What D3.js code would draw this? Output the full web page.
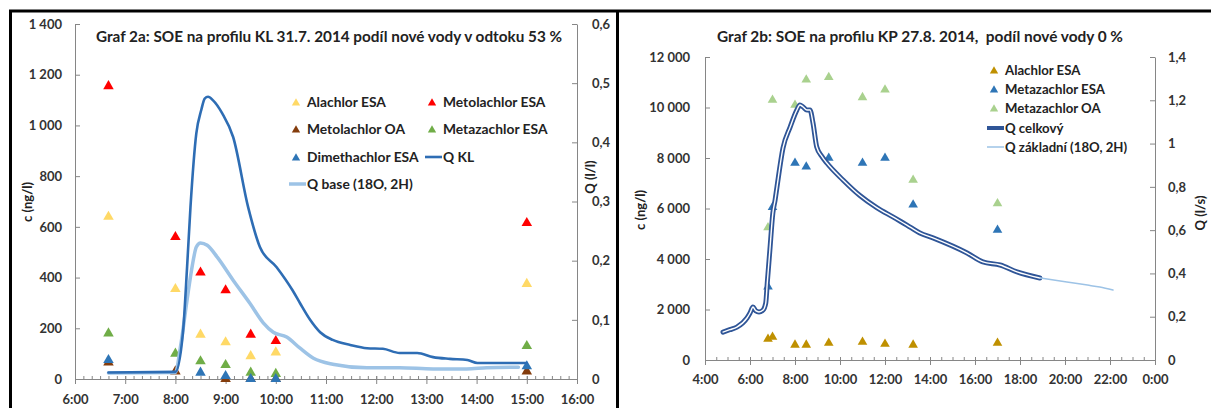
<!DOCTYPE html>
<html>
<head>
<meta charset="utf-8">
<script src="https://cdn.jsdelivr.net/npm/d3@7"></script>
<style>
  body { margin: 0; background: #fff; }
  svg text { font-family: Lato, 'Open Sans', sans-serif; }
</style>
</head>
<body>
<svg id="chart" width="1211" height="408"></svg>
<script>
// ---- Graf 2a (profil KL) ----
let timesKL = ['6:40', '8:00', '8:30', '9:00', '9:30', '10:00', '15:00'];
let alachlorEsaKL = [640, 355, 175, 145, 90, 105, 375];
let metolachlorEsaKL = [1155, 560, 420, 350, 175, 150, 615];
let metolachlorOaKL = [65, 30, null, 0, 0, 0, 30];
let metazachlorEsaKL = [180, 100, 70, 55, 25, 20, 130];
let dimethachlorEsaKL = [75, null, 25, 12, 0, 0, 50];

let qKL = [['6:40', 0.011], ['8:00', 0.012], ['8:09', 0.078], ['8:14', 0.19], ['8:18', 0.29], ['8:25', 0.415],
  ['8:31', 0.455], ['8:35', 0.474], ['8:39', 0.477], ['8:45', 0.471], ['8:56', 0.449], ['9:09', 0.409],
  ['9:27', 0.29], ['9:41', 0.223], ['10:01', 0.189], ['10:20', 0.150], ['10:29', 0.128], ['10:41', 0.10],
  ['10:53', 0.079], ['11:08', 0.066], ['11:29', 0.0575], ['11:49', 0.052], ['12:08', 0.051], ['12:28', 0.044],
  ['12:49', 0.044], ['13:08', 0.037], ['13:28', 0.034], ['13:49', 0.032], ['14:01', 0.027], ['15:00', 0.027]];
let qBaseKL = [['6:40', 0.010], ['8:00', 0.011], ['8:06', 0.054], ['8:14', 0.134], ['8:20', 0.19], ['8:25', 0.223],
  ['8:30', 0.23], ['8:38', 0.226], ['8:50', 0.206], ['9:09', 0.167], ['9:29', 0.128], ['9:45', 0.095],
  ['9:57', 0.079], ['10:13', 0.071], ['10:29', 0.052], ['10:45', 0.035], ['11:08', 0.025], ['11:49', 0.019],
  ['12:28', 0.019], ['13:08', 0.017], ['13:48', 0.017], ['14:12', 0.019], ['14:50', 0.020]];

let xTicksKL = [6, 7, 8, 9, 10, 11, 12, 13, 14, 15, 16];
let cTicksKL = [0, 200, 400, 600, 800, 1000, 1200, 1400];
let qTicksKL = [0, 0.1, 0.2, 0.3, 0.4, 0.5, 0.6];

// ---- Graf 2b (profil KP) ----
let timesKP = ['6:48', '7:00', '8:00', '8:30', '9:30', '11:00', '12:00', '13:15', '17:00'];
let alachlorEsaKP = [830, 910, 600, 600, 670, 710, 630, 600, 670];
let metazachlorEsaKP = [2900, 6050, 7800, 7650, 8000, 7800, 8000, 6150, 5150];
let metazachlorOaKP = [5250, 10300, 10100, 11100, 11200, 10400, 10700, 7130, 6200];

let qTotalKP = [['4:48', 0.129], ['5:06', 0.14], ['5:25', 0.152], ['5:52', 0.194], ['6:00', 0.217], ['6:08', 0.245],
  ['6:15', 0.228], ['6:24', 0.222], ['6:35', 0.231], ['6:42', 0.263], ['6:46', 0.355], ['6:53', 0.508],
  ['7:01', 0.68], ['7:07', 0.74], ['7:12', 0.80], ['7:28', 0.98], ['7:47', 1.076], ['8:05', 1.155],
  ['8:13', 1.178], ['8:21', 1.17], ['8:32', 1.155], ['8:40', 1.155], ['8:48', 1.095], ['8:58', 0.984],
  ['9:12', 0.94], ['9:25', 0.91], ['10:08', 0.832], ['10:53', 0.76], ['11:38', 0.704], ['12:21', 0.661],
  ['12:42', 0.64], ['13:07', 0.614], ['13:33', 0.587], ['14:08', 0.564], ['15:39', 0.494], ['16:21', 0.453],
  ['17:07', 0.439], ['17:52', 0.407], ['18:53', 0.379]];
let qBaseKP = [['18:53', 0.379], ['20:05', 0.36], ['21:00', 0.346], ['21:33', 0.337], ['22:08', 0.323]];

let xTicksKP = [4, 6, 8, 10, 12, 14, 16, 18, 20, 22, 24];
let cTicksKP = [0, 2000, 4000, 6000, 8000, 10000, 12000];
let qTicksKP = [0, 0.2, 0.4, 0.6, 0.8, 1, 1.2, 1.4];

let parseTime = function (s) {
  let parts = s.split(':');
  return +parts[0] + parts[1] / 60;
};

let czLocale = d3.formatLocale({decimal: ',', thousands: '\u00a0', grouping: [3], currency: ['', '']});
let fmtThousands = czLocale.format(',d');
let fmtQ = (d) => String(+d.toFixed(1)).replace('.', ',');
let fmtHour = (h) => (h % 24) + ':00';

let svg = d3.select('#chart');
let axisGray = '#868686';
let labelColor = '#333';

let drawPanel = function (p) {
  let x = d3.scaleLinear().domain(p.xDomain).range([p.left, p.right]);
  let yC = d3.scaleLinear().domain([0, d3.max(p.cTicks)]).range([p.bottom, p.top]);
  let yQ = d3.scaleLinear().domain([0, d3.max(p.qTicks)]).range([p.bottom, p.top]);

  let g = svg.append('g');

  // minor ticks on the time axis (pointing up)
  g.append('g')
    .attr('transform', 'translate(0,' + p.bottom + ')')
    .call(d3.axisBottom(x).tickValues(d3.range(p.xDomain[0], p.xDomain[1] + 1e-9, p.minorStep))
      .tickSizeInner(-3).tickSizeOuter(0).tickFormat(''))
    .call((a) => a.select('.domain').remove())
    .selectAll('line').attr('stroke', axisGray);

  // major time axis
  g.append('g')
    .attr('transform', 'translate(0,' + p.bottom + ')')
    .call(d3.axisBottom(x).tickValues(p.xTicks).tickSizeInner(5).tickSizeOuter(0)
      .tickPadding(p.xPad).tickFormat(fmtHour))
    .call((a) => {
      a.select('.domain').attr('stroke', axisGray);
      a.selectAll('line').attr('stroke', axisGray).attr('y1', -3);
      a.selectAll('text').attr('font-size', 13).attr('font-weight', 'bold').attr('fill', labelColor);
    });

  // concentration axis
  g.append('g')
    .attr('transform', 'translate(' + p.left + ',0)')
    .call(d3.axisLeft(yC).tickValues(p.cTicks).tickSizeInner(-5).tickSizeOuter(0)
      .tickPadding(p.cPad).tickFormat(fmtThousands))
    .call((a) => {
      a.select('.domain').attr('stroke', axisGray);
      a.selectAll('line').attr('stroke', axisGray);
      a.selectAll('text').attr('font-size', 13).attr('font-weight', 'bold').attr('fill', labelColor);
    });

  // discharge axis
  g.append('g')
    .attr('transform', 'translate(' + p.right + ',0)')
    .call(d3.axisRight(yQ).tickValues(p.qTicks).tickSizeInner(-5).tickSizeOuter(0)
      .tickPadding(p.qPad).tickFormat(fmtQ))
    .call((a) => {
      a.select('.domain').attr('stroke', axisGray);
      a.selectAll('line').attr('stroke', axisGray);
      a.selectAll('text').attr('font-size', 13).attr('font-weight', 'bold').attr('fill', labelColor);
    });

  // axis titles
  g.append('text')
    .attr('transform', 'translate(' + p.cTitleX + ',' + p.titleY + ') rotate(-90)')
    .attr('text-anchor', 'middle').attr('dy', '0.35em')
    .attr('font-size', 13).attr('font-weight', 'bold').attr('fill', '#222')
    .text('c (ng/l)');
  g.append('text')
    .attr('transform', 'translate(' + p.qTitleX + ',' + p.qTitleY + ') rotate(-90)')
    .attr('text-anchor', 'middle').attr('dy', '0.35em')
    .attr('font-size', 13).attr('font-weight', 'bold').attr('fill', '#222')
    .text(p.qTitle);

  // chart title
  g.append('text')
    .attr('x', p.titleX).attr('y', 37).attr('dy', '0.35em')
    .attr('text-anchor', 'middle')
    .attr('font-size', p.titleSize).attr('font-weight', 'bold').attr('fill', '#222')
    .attr('xml:space', 'preserve')
    .text(p.title);

  let tri = d3.symbol().type(d3.symbolTriangle).size(p.markerSize);

  // scatter series (drawn under the lines)
  p.series.forEach((s) => {
    let pts = p.times.map((t, i) => ({t: parseTime(t), v: s.values[i]})).filter((d) => d.v !== null);
    g.append('g').selectAll('path')
      .data(pts)
      .enter().append('path')
      .attr('d', tri)
      .attr('transform', (d) => 'translate(' + x(d.t) + ',' + yC(d.v) + ')')
      .attr('fill', s.color);
  });

  // discharge lines
  p.lines.forEach((l) => {
    let line = d3.line()
      .x((d) => x(parseTime(d[0])))
      .y((d) => yQ(d[1]))
      .curve(d3.curveMonotoneX);
    l.strokes.forEach((st) => {
      g.append('path')
        .datum(l.values)
        .attr('d', line)
        .attr('fill', 'none')
        .attr('stroke', st.color)
        .attr('stroke-width', st.width)
        .attr('stroke-linejoin', 'round')
        .attr('stroke-linecap', 'round');
    });
  });

  // legend
  let legend = g.append('g').selectAll('.legend')
    .data(p.legend)
    .enter().append('g')
    .attr('class', 'legend')
    .attr('transform', (d) => 'translate(' + d.x + ',' + d.y + ')');

  legend.filter((d) => d.type === 'marker')
    .append('path')
    .attr('d', d3.symbol().type(d3.symbolTriangle).size(p.legendMarkerSize))
    .attr('transform', 'translate(-11,1)')
    .attr('fill', (d) => d.color);

  legend.filter((d) => d.type === 'line')
    .each(function (d) {
      d.strokes.forEach((st) => {
        d3.select(this).append('line')
          .attr('x1', -18).attr('x2', -1).attr('y1', 0).attr('y2', 0)
          .attr('stroke', st.color).attr('stroke-width', st.width);
      });
    });

  legend.append('text')
    .attr('x', 0).attr('dy', '0.35em')
    .attr('font-size', p.legendSize).attr('font-weight', 'bold').attr('fill', '#222')
    .text((d) => d.label);
};

// ---- panel 2a ----
let colKL = {alaEsa: '#ffd966', metoEsa: '#ff0000', metoOa: '#843c0c', metaEsa: '#70ad47', dimeEsa: '#2e75b6'};
let qKLStrokes = [{color: '#2e6db4', width: 2.6}];
let qBaseKLStrokes = [{color: '#9dc3e6', width: 3.5}];

drawPanel({
  xDomain: [6, 16], left: 75, right: 577, top: 24, bottom: 379,
  xTicks: xTicksKL, minorStep: 1 / 6, xPad: 11,
  cTicks: cTicksKL, qTicks: qTicksKL, cPad: 13, qPad: 15,
  cTitleX: 27, titleY: 202, qTitleX: 590, qTitleY: 177, qTitle: 'Q (l/l)',
  titleX: 329, titleSize: 15.3,
  title: 'Graf 2a: SOE na profilu KL 31.7. 2014 podíl nové vody v odtoku 53 %',
  markerSize: 48, legendMarkerSize: 30, legendSize: 13.8,
  times: timesKL,
  series: [
    {values: alachlorEsaKL, color: colKL.alaEsa},
    {values: metolachlorEsaKL, color: colKL.metoEsa},
    {values: metolachlorOaKL, color: colKL.metoOa},
    {values: metazachlorEsaKL, color: colKL.metaEsa},
    {values: dimethachlorEsaKL, color: colKL.dimeEsa}
  ],
  lines: [
    {values: qBaseKL, strokes: qBaseKLStrokes},
    {values: qKL, strokes: qKLStrokes}
  ],
  legend: [
    {type: 'marker', x: 307, y: 102, color: colKL.alaEsa, label: 'Alachlor ESA'},
    {type: 'marker', x: 443, y: 102, color: colKL.metoEsa, label: 'Metolachlor ESA'},
    {type: 'marker', x: 307, y: 129, color: colKL.metoOa, label: 'Metolachlor OA'},
    {type: 'marker', x: 443, y: 129, color: colKL.metaEsa, label: 'Metazachlor ESA'},
    {type: 'marker', x: 307, y: 157, color: colKL.dimeEsa, label: 'Dimethachlor ESA'},
    {type: 'line', x: 443, y: 157, strokes: qKLStrokes, label: 'Q KL'},
    {type: 'line', x: 307, y: 184, strokes: qBaseKLStrokes, label: 'Q base (18O, 2H)'}
  ]
});

// ---- panel 2b ----
let colKP = {alaEsa: '#bf9000', metaEsa: '#2e75b6', metaOa: '#a9d18e'};
let qTotalStrokes = [{color: '#2f5597', width: 5}, {color: '#ffffff', width: 1.4}];
let qBaseKPStrokes = [{color: '#9dc3e6', width: 1.5}];

drawPanel({
  xDomain: [4, 24], left: 705, right: 1155, top: 57, bottom: 360,
  xTicks: xTicksKP, minorStep: 0.5, xPad: 10,
  cTicks: cTicksKP, qTicks: qTicksKP, cPad: 15, qPad: 13,
  cTitleX: 640, titleY: 210, qTitleX: 1200, qTitleY: 213, qTitle: 'Q (l/s)',
  titleX: 920, titleSize: 15.4,
  title: 'Graf 2b: SOE na profilu KP 27.8. 2014,  podíl nové vody 0 %',
  markerSize: 40, legendMarkerSize: 30, legendSize: 13.2,
  times: timesKP,
  series: [
    {values: alachlorEsaKP, color: colKP.alaEsa},
    {values: metazachlorEsaKP, color: colKP.metaEsa},
    {values: metazachlorOaKP, color: colKP.metaOa}
  ],
  lines: [
    {values: qTotalKP, strokes: qTotalStrokes},
    {values: qBaseKP, strokes: qBaseKPStrokes}
  ],
  legend: [
    {type: 'marker', x: 1005, y: 70, color: colKP.alaEsa, label: 'Alachlor ESA'},
    {type: 'marker', x: 1005, y: 89, color: colKP.metaEsa, label: 'Metazachlor ESA'},
    {type: 'marker', x: 1005, y: 108, color: colKP.metaOa, label: 'Metazachlor OA'},
    {type: 'line', x: 1005, y: 128, strokes: [{color: '#2f5597', width: 4}], label: 'Q  celkový'},
    {type: 'line', x: 1005, y: 147, strokes: qBaseKPStrokes, label: 'Q základní (18O, 2H)'}
  ]
});

// frame lines of the original layout
svg.append('line').attr('x1', 9).attr('x2', 1211).attr('y1', 11).attr('y2', 11)
  .attr('stroke', '#000').attr('stroke-width', 3);
svg.append('line').attr('x1', 10.5).attr('x2', 10.5).attr('y1', 10).attr('y2', 408)
  .attr('stroke', '#000').attr('stroke-width', 3);
svg.append('line').attr('x1', 617.5).attr('x2', 617.5).attr('y1', 10).attr('y2', 408)
  .attr('stroke', '#000').attr('stroke-width', 3);
</script>
</body>
</html>
